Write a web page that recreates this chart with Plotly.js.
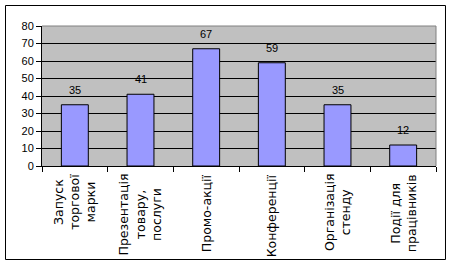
<!DOCTYPE html>
<html>
<head>
<meta charset="utf-8">
<script src="https://cdn.plot.ly/plotly-3.0.1.min.js"></script>
<style>html,body{margin:0;padding:0;background:#fff;}#chart{width:451px;height:265px;}</style>
</head>
<body>
<div id="chart"></div>
<script>
var categories = ["Запуск торгової марки", "Презентація товару, послуги", "Промо-акції", "Конференції", "Організація стенду", "Події для працівників"];
var labelLines = [["Запуск", "торгової", "марки"], ["Презентація", "товару,", "послуги"], ["Промо-акції"], ["Конференції"], ["Організація", "стенду"], ["Події для", "працівників"]];
var values = [35, 41, 67, 59, 35, 12];
var yTicks = [0, 10, 20, 30, 40, 50, 60, 70, 80];

var FONT = "Liberation Sans, Arial, sans-serif";
var LABEL_FONT = "DejaVu Sans, sans-serif";
var annotations = [];
values.forEach(function (v, i) {
  annotations.push({
    x: categories[i], y: v, xref: "x", yref: "y",
    text: String(v), showarrow: false, yanchor: "bottom", yshift: 7,
    font: {family: FONT, size: 11, color: "#000"}
  });
});
labelLines.forEach(function (lines, i) {
  annotations.push({
    x: categories[i], y: -0.043, xref: "x", yref: "paper",
    text: lines.join("<br>"), showarrow: false, textangle: -90,
    xanchor: "center", yanchor: "top", align: "center",
    font: {family: LABEL_FONT, size: 12.5, color: "#000"}
  });
});

var trace = {
  type: "bar", x: categories, y: values,
  width: 0.41,
  marker: {color: "#9999ff", line: {color: "#000", width: 1}},
  hoverinfo: "none"
};

var layout = {
  width: 451, height: 265,
  margin: {l: 42, r: 15, t: 26, b: 99, pad: 0},
  paper_bgcolor: "#ffffff", plot_bgcolor: "#c0c0c0",
  showlegend: false,
  font: {family: FONT, size: 11, color: "#000"},
  xaxis: {
    type: "category", range: [-0.5, 5.5], showticklabels: false,
    ticks: "outside", tickson: "boundaries", ticklen: 5, tickcolor: "#000", tickwidth: 1,
    showline: true, linecolor: "#000", linewidth: 1, showgrid: false, zeroline: false,
    fixedrange: true
  },
  yaxis: {
    range: [0, 80], tickvals: yTicks, ticktext: yTicks.map(String),
    ticks: "outside", ticklen: 5, tickcolor: "#000", tickwidth: 1,
    showline: true, linecolor: "#000", linewidth: 1,
    showgrid: true, gridcolor: "#000", gridwidth: 1, zeroline: false,
    tickfont: {family: FONT, size: 11, color: "#000"}, fixedrange: true
  },
  annotations: annotations,
  shapes: [
    {type: "line", xref: "paper", yref: "paper", x0: 0, x1: 1, y0: 1, y1: 1, line: {color: "#808080", width: 1}, layer: "above"},
    {type: "line", xref: "paper", yref: "paper", x0: 1, x1: 1, y0: 0, y1: 1, line: {color: "#808080", width: 1}, layer: "above"},
    {type: "rect", xref: "paper", yref: "paper", x0: -0.0926, x1: 1.0241, y0: -0.6679, y1: 1.1464, line: {color: "#000", width: 1}, fillcolor: "rgba(0,0,0,0)", layer: "above"}
  ]
};

Plotly.newPlot("chart", [trace], layout, {displayModeBar: false, staticPlot: true});
</script>
</body>
</html>
